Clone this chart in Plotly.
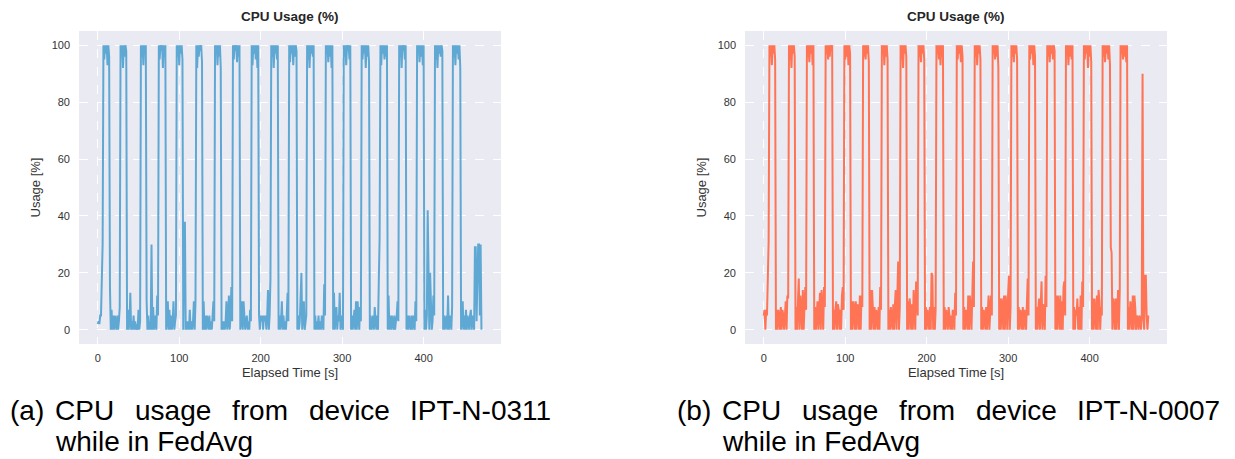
import plotly.graph_objects as go

# ---------------- data (1 sample per second) ----------------
cpu_a = [
    2, 3, 2, 5, 5, 23, 30,
    100, 95, 100, 97, 100, 93, 100, 96,
    15, 0, 7, 0, 5, 0, 5, 3, 0, 5, 0, 3, 8,
    100, 97, 100, 92, 100, 96, 100, 98,
    0, 7, 0, 3, 13, 0, 3, 0, 5, 0, 3, 0, 2, 0, 7, 0, 3,
    100, 96, 100, 93, 100, 97, 100,
    10, 0, 5, 0, 3, 0, 30, 0, 8, 0, 5, 3, 0, 12, 5,
    100, 95, 100, 98, 100, 92, 100, 96, 100,
    0, 3, 10, 0, 7, 0, 5, 0, 3, 10, 0, 3, 5,
    100, 96, 100, 93, 100, 97, 100, 95,
    0, 35, 38, 0, 3, 0, 3, 0, 7, 0, 3, 0, 3, 10, 0, 10,
    100, 92, 100, 96, 100, 98, 100, 94,
    0, 10, 0, 5, 0, 5, 3, 0, 5, 0, 3, 0, 5, 10, 3,
    100, 97, 100, 93, 100, 96, 100, 92,
    0, 3, 0, 3, 0, 3, 10, 0, 3, 12, 0, 5, 15, 3,
    100, 95, 100, 98, 100, 94, 100, 96, 100,
    0, 3, 10, 0, 10, 5, 0, 3, 5, 0, 3, 0, 7, 3,
    100, 93, 100, 97, 100, 95, 100, 92, 100,
    5, 0, 5, 3, 5, 0, 5, 3, 5, 0, 5, 14, 0, 5, 18,
    100, 96, 100, 92, 100, 97, 100, 95, 100,
    0, 5, 0, 3, 10, 0, 5, 0, 3, 0, 5, 13, 3,
    100, 94, 100, 97, 100, 93, 100, 96, 100, 98,
    0, 5, 0, 3, 10, 20, 0, 5, 10, 0, 3, 5,
    100, 95, 100, 92, 100, 97, 100, 96, 100,
    0, 5, 0, 3, 0, 5, 0, 3, 0, 5, 3, 0, 16, 5,
    100, 97, 100, 94, 100, 96, 100, 92, 100,
    0, 13, 0, 5, 8, 0, 5, 3, 13, 0, 3, 5, 0,
    100, 96, 100, 93, 100, 98, 100, 95, 100,
    0, 5, 0, 3, 7, 0, 10, 0, 10, 5, 0, 8, 3,
    100, 95, 100, 97, 100, 92, 100, 96, 100, 94,
    0, 5, 0, 3, 5, 0, 8, 3, 0, 5, 0, 17, 32,
    100, 93, 100, 97, 100, 95, 100, 96, 100,
    0, 12, 0, 5, 0, 5, 3, 0, 5, 0, 3, 5, 10, 3,
    100, 96, 100, 92, 100, 98, 100, 95, 100,
    0, 5, 0, 5, 3, 0, 5, 0, 5, 3, 0, 10, 3,
    100, 97, 100, 94, 100, 96, 100, 93, 100,
    0, 7, 0, 5, 42, 22, 0, 20, 5, 0, 3, 12, 5,
    100, 95, 100, 92, 100, 97, 100, 96, 100, 98,
    0, 5, 0, 3, 5, 0, 12, 0, 5, 3, 0, 8,
    100, 96, 100, 93, 100, 97, 100, 95, 100, 92,
    0, 3, 10, 0, 5, 0, 7, 0, 5, 3, 0, 5, 7, 0, 5, 3, 0, 29, 29, 3, 15, 30, 30, 5, 30, 0,
]

cpu_b = [
    5, 7, 0, 7, 5, 26, 31,
    100, 96, 100, 93, 100, 97, 100, 95,
    0, 7, 0, 7, 4, 0, 8, 0, 7, 5, 0, 8, 10, 0, 12, 11,
    100, 95, 100, 92, 100, 97, 100, 96,
    0, 8, 0, 10, 18, 0, 12, 7, 0, 14, 0, 8, 15, 7,
    100, 96, 100, 94, 100, 97, 100, 93, 100,
    0, 8, 0, 7, 10, 0, 8, 13, 0, 14, 7, 0, 15, 8,
    100, 97, 100, 95, 100, 96, 100, 98, 100,
    0, 7, 0, 7, 10, 0, 9, 7, 0, 7, 0, 12, 15, 7,
    100, 95, 100, 96, 100, 93, 100, 97,
    0, 10, 0, 10, 7, 0, 10, 0, 9, 7, 0, 12, 0, 12, 8,
    100, 96, 100, 95, 100, 97, 100, 94,
    0, 14, 0, 14, 7, 0, 8, 0, 7, 5, 0, 8, 0, 15, 7,
    100, 97, 100, 93, 100, 96, 100, 95,
    0, 7, 0, 8, 5, 0, 9, 0, 9, 14, 0, 10, 24, 0, 8,
    100, 95, 100, 92, 100, 97, 100, 96,
    0, 10, 0, 11, 8, 0, 9, 0, 14, 7, 0, 17, 10, 5,
    100, 96, 100, 94, 100, 97, 100, 95,
    0, 8, 0, 7, 5, 0, 8, 0, 20, 19, 0, 8, 0, 7,
    100, 97, 100, 95, 100, 93, 100, 96, 100,
    0, 8, 0, 7, 5, 0, 8, 5, 0, 5, 0, 7, 4, 0, 13, 5,
    100, 95, 100, 97, 100, 94, 100, 96,
    0, 8, 0, 7, 5, 0, 12, 0, 12, 8, 0, 13, 24, 8,
    100, 96, 100, 93, 100, 97, 100, 95,
    0, 8, 0, 7, 5, 0, 8, 0, 7, 12, 0, 8, 12, 5,
    100, 97, 100, 95, 100, 96, 100, 92,
    0, 11, 0, 11, 8, 0, 12, 0, 12, 7, 0, 13, 19, 0, 8,
    100, 96, 100, 94, 100, 97, 100, 95,
    0, 8, 0, 7, 5, 0, 8, 0, 7, 5, 0, 8, 18, 5,
    100, 95, 100, 97, 100, 93, 100, 96,
    0, 8, 0, 7, 11, 0, 11, 17, 0, 9, 5, 0, 19, 8,
    100, 96, 100, 94, 100, 97, 100, 95, 100, 98,
    0, 12, 0, 12, 8, 0, 12, 0, 10, 0, 15, 17, 5,
    100, 97, 100, 93, 100, 96, 100, 95, 100,
    0, 8, 0, 7, 5, 11, 0, 8, 0, 12, 0, 17, 8,
    100, 95, 100, 97, 100, 92, 100, 96, 100, 94,
    0, 11, 0, 11, 7, 0, 12, 0, 14, 10, 0, 8, 5,
    100, 96, 100, 94, 100, 97, 100, 95, 100, 93,
    29, 27, 0, 11, 8, 0, 11, 0, 12, 14, 0, 14,
    100, 97, 100, 95, 100, 96, 100, 94, 100,
    0, 8, 0, 10, 7, 0, 12, 0, 12, 8, 0, 5, 4, 0, 5, 4, 0, 5, 90, 5, 0, 19, 19, 5, 0, 5,
]

time_a = list(range(len(cpu_a)))
time_b = list(range(len(cpu_b)))

x_ticks = [0, 100, 200, 300, 400]
y_ticks = [0, 20, 40, 60, 80, 100]

panel_title = "CPU Usage (%)"
x_label = "Elapsed Time [s]"
y_label = "Usage [%]"
caption_a = ["(a)", "CPU", "usage", "from", "device", "IPT-N-0311"]
caption_b = ["(b)", "CPU", "usage", "from", "device", "IPT-N-0007"]
caption_line2 = "while in FedAvg"

# ---------------- layout helpers ----------------
W, H = 1235, 459
def px(x):
    return x / W
def py(y):
    return 1 - y / H

FONT = "Liberation Sans, Arial, Helvetica, sans-serif"
BLUE = "#5fa8d4"
ORANGE = "#fe7455"

fig = go.Figure()
fig.add_trace(go.Scatter(x=time_a, y=cpu_a, mode="lines",
                         line=dict(color=BLUE, width=2.0), xaxis="x", yaxis="y",
                         showlegend=False, hoverinfo="skip"))
fig.add_trace(go.Scatter(x=time_b, y=cpu_b, mode="lines",
                         line=dict(color=ORANGE, width=2.0), xaxis="x2", yaxis="y2",
                         showlegend=False, hoverinfo="skip"))

xax = dict(range=[-23, 495], tickvals=x_ticks, showgrid=True, gridcolor="white",
           griddash="dash", gridwidth=1, zeroline=False, showline=False, ticks="",
           ticklabelstandoff=6, tickfont=dict(family=FONT, size=11, color="#333333"),
           title=dict(text=x_label, font=dict(family=FONT, size=13, color="#333333"), standoff=4),
           automargin=False)
yax = dict(range=[-5, 105], tickvals=y_ticks, showgrid=True, gridcolor="white",
           griddash="dash", gridwidth=1, zeroline=False, showline=False, ticks="",
           ticklabelstandoff=8, tickfont=dict(family=FONT, size=11, color="#333333"),
           title=dict(text=y_label, font=dict(family=FONT, size=13, color="#333333"), standoff=8),
           automargin=False)

ydom = [py(344), py(31)]
fig.update_layout(
    width=W, height=H,
    margin=dict(l=0, r=0, t=0, b=0),
    paper_bgcolor="white",
    plot_bgcolor="#eaeaf2",
    xaxis=dict(domain=[px(79), px(501)], anchor="y", **xax),
    yaxis=dict(domain=ydom, anchor="x", **yax),
    xaxis2=dict(domain=[px(745), px(1167)], anchor="y2", **xax),
    yaxis2=dict(domain=ydom, anchor="x2", **yax),
)

annotations = []
for cx in (290, 956):
    annotations.append(dict(text="<b>" + panel_title + "</b>", x=px(cx), y=py(17),
                            xref="paper", yref="paper", xanchor="center", yanchor="middle",
                            showarrow=False, font=dict(family=FONT, size=13.5, color="#262626")))

# justified two-line captions
word_x_a = [8, 53, 133, 230, 307, 408]
word_x_b = [675, 720, 800, 897, 974, 1075]
for words, xs in ((caption_a, word_x_a), (caption_b, word_x_b)):
    for w, x in zip(words, xs):
        annotations.append(dict(text=w, x=px(x), y=py(410), xref="paper", yref="paper",
                                xanchor="left", yanchor="middle", showarrow=False,
                                font=dict(family=FONT, size=28, color="black")))
    annotations.append(dict(text=caption_line2, x=px(xs[1]), y=py(441), xref="paper", yref="paper",
                            xanchor="left", yanchor="middle", showarrow=False,
                            font=dict(family=FONT, size=28, color="black")))

fig.update_layout(annotations=annotations)
fig.write_html("out.html")
